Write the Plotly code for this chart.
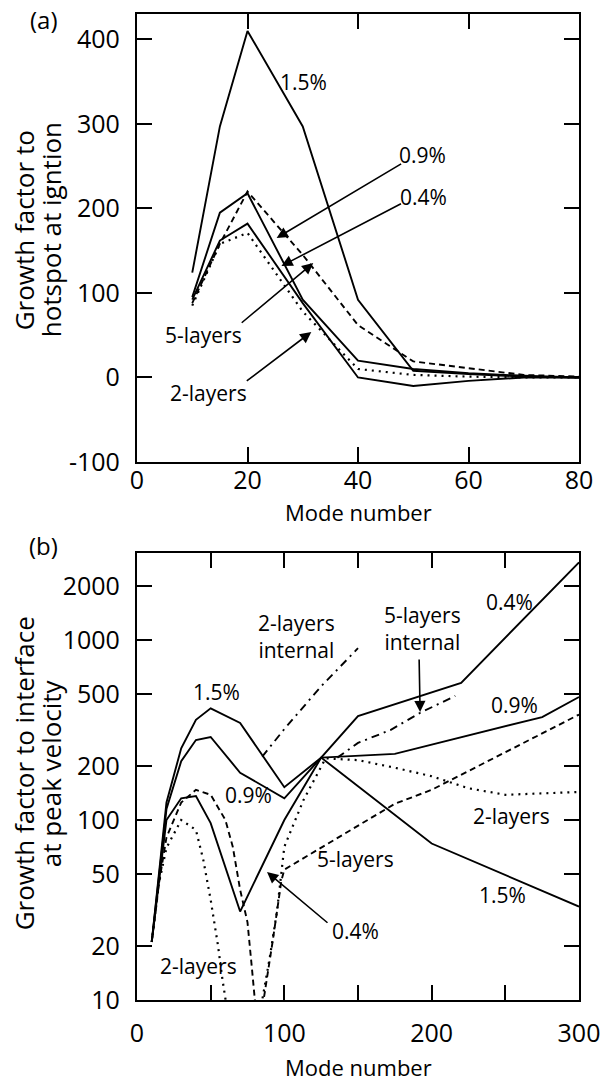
import plotly.graph_objects as go

W, H = 612, 1086
ML, MR, MT, MB = 137, 16, 14, 86
FONT = "Open Sans"

# ---------------- Panel (a) data ----------------
a_mode = [10, 15, 20, 30, 40, 50, 60, 70, 80]
a_15 = [124, 297, 410, 297, 92, 8, 4, 1, 0]
a_09 = [95, 195, 218, 92, 20, 10, 5, 2, 0]
a_04 = [92, 162, 182, 88, 0, -10, -4, 0, 0]
a_5lay = [88, 158, 220, 145, 62, 19, 11, 3, 1]
a_2lay = [85, 158, 171, 78, 10, 3, 1, 0, 0]

a_xticks = [0, 20, 40, 60, 80]
a_yticks = [-100, 0, 100, 200, 300, 400]
a_ytext = ["-100", "0", "100", "200", "300", "400"]

# ---------------- Panel (b) data ----------------
b15_mode = [10, 15, 20, 30, 40, 50, 70, 100, 125, 200, 300]
b_15 = [21, 50, 125, 250, 360, 417, 346, 152, 222, 74, 33]

b09_mode = [10, 15, 20, 30, 40, 50, 70, 100, 125, 175, 275, 300]
b_09 = [21, 48, 115, 212, 278, 289, 183, 132, 222, 233, 373, 482]

b04_mode = [10, 15, 20, 30, 40, 50, 70, 100, 125, 150, 220, 300]
b_04 = [21, 47, 100, 132, 136, 96, 31, 100, 222, 378, 577, 2700]

b5_mode = [10, 15, 20, 30, 40, 50, 60, 65, 70, 75, 78, 80, 83, 86, 89, 92, 95,
           98, 100, 125, 150, 175, 200, 300]
b_5lay = [21, 45, 80, 125, 147, 138, 100, 71, 41, 27, 15, 10, 7, 10, 14, 21, 31,
          46, 53, 70, 93, 123, 147, 385]

b2_mode = [10, 15, 20, 30, 40, 45, 50, 55, 58, 60, 70, 85, 90, 95, 100, 113, 128,
           150, 175, 200, 225, 250, 275, 300]
b_2lay = [21, 45, 70, 100, 88, 60, 36, 20, 13, 10, 3, 10, 17, 31, 71, 129, 220,
          215, 195, 175, 150, 138, 140, 143]

b2i_mode = [85, 100, 125, 150]
b_2int = [225, 320, 553, 900]

b5i_mode = [136, 150, 172, 192, 216]
b_5int = [222, 268, 316, 393, 489]

b_xticks = [0, 50, 100, 150, 200, 250, 300]
b_xtext = ["0", "", "100", "", "200", "", "300"]
b_yticks = [10, 20, 50, 100, 200, 500, 1000, 2000]

# ---------------- styles ----------------
LW = 1.9
SOLID = dict(color="black", width=LW)
DASH = dict(color="black", width=LW, dash="6px,4px")
DOT = dict(color="black", width=2.2, dash="2px,5px")
DASHDOT = dict(color="black", width=LW, dash="8px,5px,2px,5px")

fig = go.Figure()

def add(x, y, line, xa="x", ya="y"):
    fig.add_trace(go.Scatter(x=x, y=y, mode="lines", line=line,
                             xaxis=xa, yaxis=ya, showlegend=False,
                             hoverinfo="skip"))

add(a_mode, a_15, SOLID)
add(a_mode, a_09, SOLID)
add(a_mode, a_04, SOLID)
add(a_mode, a_5lay, DASH)
add(a_mode, a_2lay, DOT)

add(b15_mode, b_15, SOLID, "x2", "y2")
add(b09_mode, b_09, SOLID, "x2", "y2")
add(b04_mode, b_04, SOLID, "x2", "y2")
add(b5_mode, b_5lay, DASH, "x2", "y2")
add(b2_mode, b_2lay, DOT, "x2", "y2")
add(b2i_mode, b_2int, DASHDOT, "x2", "y2")
add(b5i_mode, b_5int, DASHDOT, "x2", "y2")

axis_common = dict(showline=True, linecolor="black", linewidth=2.2,
                   mirror="ticks", ticks="inside", ticklen=15, tickwidth=2,
                   tickcolor="black", showgrid=False, zeroline=False,
                   tickfont=dict(family=FONT, size=25, color="black"))

PH = H - MT - MB
top_dom = [(H - MB - 462) / PH, 1.0]
bot_dom = [0.0, (H - MB - 553) / PH]

fig.update_layout(
    width=W, height=H,
    margin=dict(l=ML, r=MR, t=MT, b=MB, pad=0),
    paper_bgcolor="white", plot_bgcolor="white",
    font=dict(family=FONT, color="black"),
    xaxis=dict(axis_common, domain=[0, 1], anchor="y", range=[0, 80],
               tickvals=a_xticks, ticklabelstandoff=-5),
    yaxis=dict(axis_common, domain=top_dom, anchor="x", range=[-100, 430],
               tickvals=a_yticks, ticktext=a_ytext, ticklabelstandoff=10),
    xaxis2=dict(axis_common, domain=[0, 1], anchor="y2", range=[0, 300],
                tickvals=b_xticks, ticktext=b_xtext, ticklabelstandoff=10),
    yaxis2=dict(axis_common, domain=bot_dom, anchor="x2", type="log",
                range=[1, 3.483], tickvals=b_yticks,
                ticktext=[str(v) for v in b_yticks], ticklabelstandoff=10),
)

def P(xp, yp):
    return (xp - ML) / (W - ML - MR), (H - MB - yp) / PH

ann = []

def text(xp, yp, t, size=21, angle=0):
    x, y = P(xp, yp)
    ann.append(dict(x=x, y=y, xref="paper", yref="paper", text=t,
                    showarrow=False, xanchor="center", yanchor="middle",
                    textangle=angle,
                    font=dict(family=FONT, size=size, color="black")))

def arrow(tail, tip):
    x, y = P(*tip)
    ann.append(dict(x=x, y=y, xref="paper", yref="paper", text="",
                    showarrow=True, axref="pixel", ayref="pixel",
                    ax=tail[0] - tip[0], ay=tail[1] - tip[1],
                    arrowhead=2, arrowsize=1.4, arrowwidth=1.6,
                    arrowcolor="black", standoff=0, startstandoff=0))

# panel (a)
text(40, 20, "(a)", 24)
text(20, 230, "Growth factor to", 26, -90)
text(48, 230, "hotspot at igntion", 26, -90)
text(367, 512, "Mode number", 22)
text(310, 82, "1.5%")
text(433, 155, "0.9%")
text(434, 197, "0.4%")
text(206, 335, "5-layers")
text(211, 393, "2-layers")
arrow((408, 163), (282, 238))
arrow((408, 203), (287, 266))
arrow((247, 324), (320, 263))
arrow((252, 382), (318, 332))

# panel (b)
text(40, 545, "(b)", 24)
text(20, 773, "Growth factor to interface", 26, -90)
text(48, 773, "at peak velocity", 26, -90)
text(367, 1067, "Mode number", 22)
text(220, 692, "1.5%")
text(253, 795, "0.9%")
text(303, 636, "2-layers<br>internal")
text(433, 628, "5-layers<br>internal")
text(524, 602, "0.4%")
text(529, 705, "0.9%")
text(526, 816, "2-layers")
text(364, 859, "5-layers")
text(517, 895, "1.5%")
text(364, 931, "0.4%")
text(201, 966, "2-layers")
arrow((334, 924), (272, 872))
arrow((430, 658), (431, 712))

fig.update_layout(annotations=ann)
fig.write_html("out.html")
